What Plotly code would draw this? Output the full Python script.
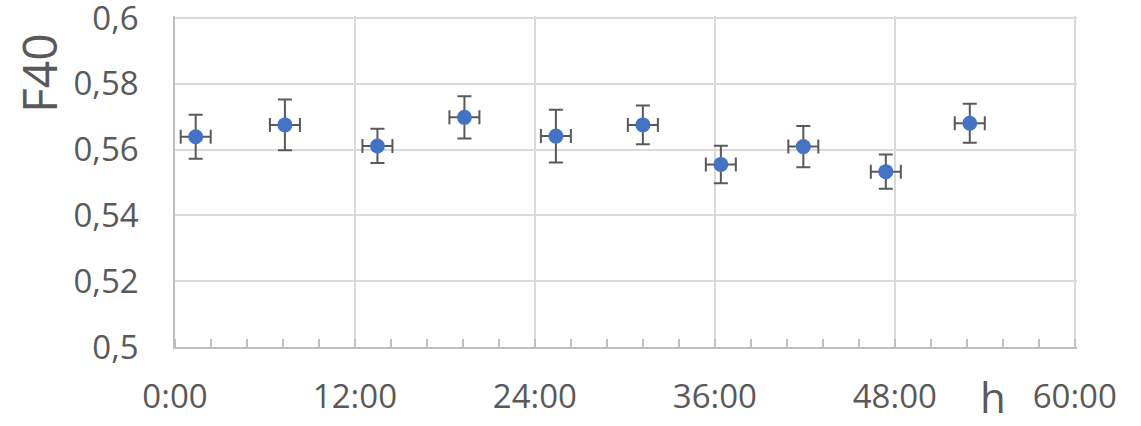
import plotly.graph_objects as go

# Sampling times (hours) and measured F40 with uncertainties
hours = [1.38, 7.33, 13.5, 19.3, 25.4, 31.2, 36.4, 41.9, 47.4, 53.0]
hours_err = [1.0, 1.0, 1.0, 1.0, 1.0, 1.0, 1.0, 1.0, 1.0, 1.0]
f40 = [0.5639, 0.5675, 0.5611, 0.5698, 0.5641, 0.5675, 0.5555, 0.5609, 0.5533, 0.5680]
f40_err = [0.0067, 0.0077, 0.0052, 0.0064, 0.0080, 0.0059, 0.0057, 0.0063, 0.0052, 0.0059]

x_tickvals = [0, 12, 24, 36, 48, 60]
x_ticktext = ["0:00", "12:00", "24:00", "36:00", "48:00", "60:00"]
y_tickvals = [0.5, 0.52, 0.54, 0.56, 0.58, 0.6]
y_ticktext = ["0,5", "0,52", "0,54", "0,56", "0,58", "0,6"]

FONT = "Open Sans"
TEXT = "#595959"
GRID = "#d9d9d9"
AXIS = "#bfbfbf"

L, R, T, B = 175, 64, 16, 79
W, H = 1141, 426

fig = go.Figure()
fig.add_trace(go.Scatter(
    x=hours, y=f40, mode="markers",
    marker=dict(color="#4472C4", size=15),
    error_x=dict(type="data", array=hours_err, color="#595959", thickness=2, width=7),
    error_y=dict(type="data", array=f40_err, color="#595959", thickness=2, width=7),
    showlegend=False,
))

fig.update_layout(
    width=W, height=H,
    margin=dict(l=L, r=R, t=T, b=B, autoexpand=False),
    paper_bgcolor="white", plot_bgcolor="white",
    font=dict(family=FONT, color=TEXT, size=33),
    xaxis=dict(
        range=[0, 60.15], tickvals=x_tickvals, ticktext=x_ticktext,
        showgrid=True, gridcolor=GRID, gridwidth=1.5,
        showline=True, linecolor=AXIS, linewidth=1.5, mirror=False,
        zeroline=False, ticks="", ticklabelstandoff=20,
        ticklabeloverflow="allow", automargin=False,
        tickfont=dict(family=FONT, color=TEXT, size=33),
        minor=dict(ticks="inside", dtick=2.4, tick0=0, ticklen=8,
                   tickcolor=AXIS, tickwidth=1.5, showgrid=False),
    ),
    yaxis=dict(
        range=[0.5, 0.6006], tickvals=y_tickvals, ticktext=y_ticktext,
        showgrid=True, gridcolor=GRID, gridwidth=1.5,
        showline=True, linecolor=AXIS, linewidth=1.5,
        zeroline=False, ticks="", ticklabelstandoff=28,
        ticklabeloverflow="allow", automargin=False,
        tickfont=dict(family=FONT, color=TEXT, size=33),
    ),
)


def to_paper(px, py):
    """Pixel position on the page -> paper coordinates."""
    return (px - L) / (W - L - R), (H - B - py) / (H - T - B)


# Axis titles placed where the chart shows them
fx, fy = to_paper(38, 73)
fig.add_annotation(
    text="F40", textangle=-90, x=fx, y=fy, xref="paper", yref="paper",
    showarrow=False, font=dict(family=FONT, color=TEXT, size=48),
    xanchor="center", yanchor="middle",
)
hx, hy = to_paper(993, 396)
fig.add_annotation(
    text="h", x=hx, y=hy, xref="paper", yref="paper", showarrow=False,
    font=dict(family=FONT, color=TEXT, size=42),
    xanchor="center", yanchor="middle",
)

fig.write_html("out.html")
